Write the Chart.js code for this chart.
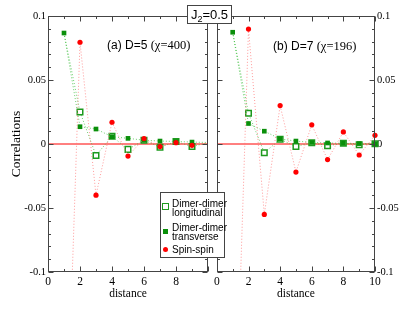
<!DOCTYPE html>
<html><head><meta charset="utf-8">
<script src="https://cdn.jsdelivr.net/npm/chart.js@4/dist/chart.umd.min.js"></script>
<style>
html,body{margin:0;padding:0;background:#fff;width:415px;height:321px;overflow:hidden;position:relative}
.c{position:absolute;top:0;height:321px}
#wa{left:0;width:212px}
#wb{left:211px;width:204px}
.ov{position:absolute;white-space:nowrap;color:#000}
#legend{position:absolute;left:160px;top:192px;width:65px;height:66px;border:1px solid #444;background:#fff;font:10px 'Liberation Sans',sans-serif;line-height:9px;box-sizing:border-box}
#legend .t{position:absolute;left:11px;white-space:nowrap}
#legend .m{position:absolute;box-sizing:border-box}
#j2{position:absolute;left:187px;top:5px;width:45px;height:19px;border:1px solid #444;background:#fff;box-sizing:border-box;font:13px 'Liberation Sans',sans-serif;line-height:17px;text-align:center}
#j2 sub{font-size:9px;line-height:0;vertical-align:-3px}
</style></head><body>
<div class="c" id="wa"><canvas id="ca"></canvas></div>
<div class="c" id="wb"><canvas id="cb"></canvas></div>
<div class="ov" style="left:107px;top:38px;font:12px 'Liberation Sans',sans-serif">(a) D=5 <span style="font-family:'Liberation Serif',serif;font-size:12.5px">(χ=400)</span></div>
<div class="ov" style="left:273px;top:39px;font:12px 'Liberation Sans',sans-serif">(b) D=7 <span style="font-family:'Liberation Serif',serif;font-size:12.5px">(χ=196)</span></div>
<div id="j2">J<sub>2</sub>=0.5</div>
<div id="legend">
  <div class="m" style="left:1px;top:10px;width:7px;height:7px;border:1.5px solid #1e9a1e;background:#fff"></div>
  <div class="t" style="top:6px">Dimer-dimer<br>longitudinal</div>
  <div class="m" style="left:2px;top:36px;width:5px;height:5px;background:#0a8f0a"></div>
  <div class="t" style="top:30px">Dimer-dimer<br>transverse</div>
  <div class="m" style="left:2px;top:54px;width:5px;height:5px;border-radius:50%;background:#ff0000"></div>
  <div class="t" style="top:52px">Spin-spin</div>
</div>
<script>
// ---- data ----
const distances = [1,2,3,4,5,6,7,8,9,10];
// panel (a): D=5, chi=400
const aLongitudinal = [0.0867, 0.025, -0.0089, 0.006, -0.0042, 0.003, -0.0025, 0.002, -0.002, 0.001];
const aTransverse   = [0.0867, 0.0135, 0.0117, 0.0057, 0.0044, 0.003, 0.0023, 0.002, 0.0015, 0.0012];
const aSpin         = [-0.295, 0.0795, -0.040, 0.017, -0.0094, 0.0042, -0.002, 0.001, -0.001, null];
// panel (b): D=7, chi=196
const bLongitudinal = [0.0873, 0.024, -0.0068, 0.0037, -0.002, 0.001, -0.0013, 0.0005, -0.0005, 0.0002];
const bTransverse   = [0.0873, 0.016, 0.010, 0.004, 0.0023, 0.0012, 0.0008, 0.0005, 0.0003, 0.0002];
const bSpin         = [-0.295, 0.0898, -0.055, 0.030, -0.0219, 0.015, -0.0122, 0.0094, -0.0086, 0.0068];
const zeroLine = [0, 0];
const xRange = [0, 10];
const yRange = [-0.1, 0.1];
const yLabelValues = [-0.1, -0.05, 0, 0.05, 0.1];

Chart.defaults.color = '#000';
Chart.defaults.animation = false;

function pts(arr){ return distances.map((d,i)=>({x:d,y:arr[i]})).filter(p=>p.y!==null); }

const frame = {
  id:'frame',
  afterDatasetsDraw(chart){
    const {ctx, chartArea:a, scales:{x,y}} = chart;
    ctx.save();
    ctx.strokeStyle = '#444'; ctx.lineWidth = 1;
    const L=Math.round(a.left)+0.5, R=Math.round(a.right)-0.5, T=Math.round(a.top)+0.5, B=Math.round(a.bottom)-0.5;
    ctx.beginPath();
    x.ticks.forEach(t=>{
      const px = Math.round(x.getPixelForValue(t.value))+0.5;
      const len = (Math.round(t.value)%2===0)?5:2.5;
      ctx.moveTo(px,B); ctx.lineTo(px,B-len);
      ctx.moveTo(px,T); ctx.lineTo(px,T+len);
    });
    y.ticks.forEach(t=>{
      const py = Math.round(y.getPixelForValue(t.value))+0.5;
      const len = (Math.round(t.value*100)%5===0)?5:2.5;
      ctx.moveTo(L,py); ctx.lineTo(L+len,py);
      ctx.moveTo(R,py); ctx.lineTo(R-len,py);
    });
    ctx.stroke();
    ctx.strokeRect(L,T,R-L,B-T);
    ctx.restore();
  }
};

function makeChart(id, side, long, trans, spin, hideLastMarkers){
  const hide = (base)=>(c)=>{
    const raw=c.raw; if(!raw) return base;
    if(c.datasetIndex===1 && raw.x===1) return 0;
    if(hideLastMarkers && raw.x===10) return 0;
    return base;
  };
  const left = side==='left';
  const clip = {left:6, right:6, top:0, bottom:0};
  return new Chart(document.getElementById(id), {
    type:'line',
    data:{datasets:[
      {label:'zero', data:xRange.map((v,i)=>({x:v,y:zeroLine[i]})), borderColor:'#ff0000', borderWidth:1, pointRadius:0, order:4},
      {label:'Dimer-dimer longitudinal', data:pts(long), borderColor:'rgba(60,190,60,0.75)', borderWidth:1, borderDash:[1,2], clip,
        pointStyle:'rect', pointRadius:hide(3.9), pointBackgroundColor:'#fff', pointBorderColor:'#1e9a1e', pointBorderWidth:1.5, order:3},
      {label:'Dimer-dimer transverse', data:pts(trans), borderColor:'rgba(60,190,60,0.75)', borderWidth:1, borderDash:[1,2], clip,
        pointStyle:'rect', pointRadius:hide(3.3), pointBackgroundColor:'#0a8f0a', pointBorderColor:'#0a8f0a', pointBorderWidth:0, order:2},
      {label:'Spin-spin', data:pts(spin), borderColor:'rgba(255,120,120,0.75)', borderWidth:1, borderDash:[1,2], clip,
        pointStyle:'circle', pointRadius:hide(2.6), pointBackgroundColor:'#ff0000', pointBorderColor:'#ff0000', pointBorderWidth:0, order:1}
    ]},
    options:{
      responsive:true, maintainAspectRatio:false,
      layout:{padding:left?{left:0,right:4,top:16,bottom:0}:{left:4,right:0,top:16,bottom:0}},
      plugins:{legend:{display:false}, tooltip:{enabled:false}},
      scales:{
        x:{type:'linear', min:xRange[0], max:xRange[1],
          grid:{display:false, drawTicks:false}, border:{display:false},
          ticks:{stepSize:1, autoSkip:false, maxRotation:0, padding:3,
            font:{family:"'Liberation Serif',serif", size:11.5},
            callback:(v)=>{ if(Math.round(v)%2!==0) return ''; if(left && v===10) return ''; return String(v);} },
          title:{display:true, text:'distance', font:{family:"'Liberation Serif',serif", size:11.5}, padding:{top:0,bottom:20}},
          afterFit:(s)=>{ s.height = 49; }
        },
        y:{type:'linear', position:side, min:yRange[0], max:yRange[1],
          grid:{display:false, drawTicks:false}, border:{display:false},
          ticks:{stepSize:0.01, autoSkip:false, padding:2,
            font:{family:"'Liberation Serif',serif", size:10.5},
            callback:(v)=>{ const m = yLabelValues.find(l=>Math.abs(l-v)<1e-9); return m===undefined?'':String(m);} },
          title:{display:left, text:'Correlations', font:{family:"'Liberation Serif',serif", size:13.5}, padding:{top:8,bottom:0}},
          afterFit:(s)=>{ s.width = left?48:40; }
        }
      }
    },
    plugins:[frame]
  });
}
makeChart('ca','left', aLongitudinal, aTransverse, aSpin, true);
makeChart('cb','right', bLongitudinal, bTransverse, bSpin, false);
</script>
</body></html>
